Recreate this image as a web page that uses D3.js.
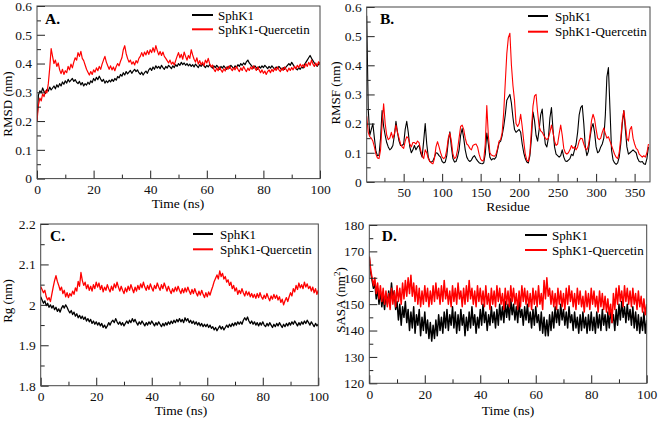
<!DOCTYPE html>
<html><head><meta charset="utf-8">
<script src="https://cdn.jsdelivr.net/npm/d3@7"></script>
<style>body{margin:0;background:#fff}svg{display:block}text{font-family:"Liberation Serif","Times New Roman",serif}</style>
</head><body><svg id="c" width="658" height="421"></svg>
<script>
// ---------- data ----------
const seriesNames = ["SphK1", "SphK1-Quercetin"];
const timeRange = [0, 100];      // ns, samples evenly spaced across this range
const residueStart = 2, residueStep = 2;

const rmsdSphK1 = [
0.200,0.290,0.305,0.298,0.315,0.302,0.296,0.310,0.304,0.318,
0.308,0.315,0.322,0.312,0.326,0.318,0.330,0.322,0.336,0.328,
0.340,0.332,0.345,0.336,0.342,0.348,0.338,0.344,0.335,0.330,
0.338,0.326,0.334,0.322,0.330,0.325,0.335,0.328,0.340,0.334,
0.348,0.340,0.352,0.344,0.356,0.346,0.338,0.345,0.332,0.340,
0.334,0.342,0.336,0.345,0.338,0.348,0.342,0.355,0.350,0.362,
0.356,0.368,0.360,0.372,0.364,0.370,0.376,0.366,0.374,0.380,
0.372,0.378,0.368,0.362,0.370,0.360,0.368,0.374,0.366,0.378,
0.384,0.376,0.388,0.380,0.392,0.384,0.390,0.382,0.394,0.386,
0.380,0.390,0.384,0.394,0.388,0.382,0.392,0.386,0.396,0.390,
0.400,0.394,0.404,0.396,0.402,0.394,0.400,0.392,0.398,0.390,
0.396,0.388,0.398,0.392,0.386,0.396,0.390,0.398,0.392,0.386,
0.394,0.388,0.396,0.390,0.384,0.392,0.386,0.394,0.388,0.380,
0.390,0.384,0.392,0.386,0.380,0.390,0.384,0.394,0.388,0.382,
0.392,0.386,0.396,0.390,0.400,0.394,0.402,0.396,0.406,0.412,
0.402,0.396,0.390,0.384,0.392,0.386,0.380,0.390,0.384,0.392,
0.386,0.394,0.388,0.382,0.390,0.384,0.392,0.386,0.380,0.388,
0.382,0.390,0.384,0.378,0.386,0.380,0.388,0.394,0.400,0.394,
0.404,0.396,0.388,0.382,0.378,0.386,0.380,0.388,0.384,0.396,
0.404,0.412,0.420,0.428,0.418,0.410,0.402,0.396,0.390,0.398,
0.404];
const rmsdQuercetin = [
0.200,0.255,0.280,0.270,0.295,0.285,0.305,0.298,0.330,0.385,
0.452,0.425,0.400,0.412,0.390,0.402,0.378,0.365,0.380,0.362,
0.375,0.368,0.390,0.378,0.398,0.385,0.405,0.420,0.412,0.438,
0.425,0.442,0.418,0.410,0.395,0.380,0.370,0.360,0.372,0.362,
0.378,0.370,0.385,0.375,0.390,0.380,0.398,0.412,0.425,0.405,
0.392,0.380,0.392,0.378,0.388,0.375,0.390,0.400,0.392,0.408,
0.420,0.448,0.462,0.435,0.418,0.405,0.412,0.398,0.406,0.395,
0.410,0.402,0.418,0.425,0.438,0.425,0.440,0.430,0.445,0.432,
0.448,0.438,0.455,0.440,0.462,0.445,0.430,0.442,0.428,0.440,
0.425,0.418,0.410,0.402,0.412,0.398,0.405,0.395,0.410,0.425,
0.438,0.420,0.432,0.415,0.440,0.425,0.412,0.428,0.418,0.448,
0.430,0.415,0.405,0.420,0.398,0.410,0.395,0.405,0.392,0.412,
0.402,0.418,0.400,0.388,0.395,0.380,0.372,0.385,0.375,0.388,
0.378,0.370,0.382,0.374,0.388,0.380,0.392,0.382,0.375,0.386,
0.378,0.390,0.380,0.372,0.385,0.376,0.390,0.380,0.372,0.384,
0.376,0.388,0.380,0.392,0.384,0.376,0.388,0.378,0.368,0.378,
0.366,0.374,0.362,0.372,0.378,0.368,0.380,0.372,0.384,0.376,
0.388,0.378,0.372,0.384,0.376,0.388,0.380,0.372,0.384,0.376,
0.386,0.378,0.390,0.382,0.394,0.386,0.398,0.388,0.396,0.386,
0.400,0.390,0.404,0.394,0.412,0.398,0.390,0.402,0.392,0.406,
0.396];

const rmsfSphK1 = [
0.570,0.250,0.160,0.180,0.200,0.150,0.105,0.090,0.092,0.150,
0.245,0.190,0.160,0.135,0.120,0.110,0.115,0.125,0.160,0.208,
0.170,0.140,0.125,0.125,0.130,0.180,0.208,0.170,0.120,0.100,
0.110,0.125,0.110,0.120,0.125,0.100,0.085,0.140,0.200,0.130,
0.085,0.070,0.068,0.072,0.085,0.100,0.098,0.090,0.085,0.070,
0.065,0.068,0.090,0.140,0.172,0.120,0.080,0.068,0.070,0.085,
0.110,0.160,0.183,0.150,0.110,0.085,0.075,0.070,0.075,0.085,
0.090,0.080,0.072,0.066,0.063,0.062,0.065,0.095,0.168,0.130,
0.085,0.075,0.080,0.078,0.085,0.110,0.135,0.140,0.160,0.190,
0.230,0.280,0.290,0.300,0.270,0.220,0.180,0.170,0.175,0.180,
0.170,0.130,0.100,0.080,0.068,0.065,0.090,0.150,0.240,0.210,
0.160,0.140,0.180,0.230,0.250,0.180,0.130,0.120,0.150,0.220,
0.255,0.180,0.120,0.095,0.090,0.085,0.090,0.110,0.085,0.072,
0.070,0.075,0.080,0.095,0.090,0.110,0.130,0.170,0.230,0.255,
0.262,0.200,0.120,0.090,0.105,0.150,0.185,0.200,0.170,0.120,
0.100,0.105,0.120,0.130,0.150,0.230,0.360,0.392,0.250,0.110,
0.075,0.065,0.060,0.065,0.085,0.130,0.200,0.245,0.180,0.120,
0.095,0.100,0.105,0.110,0.105,0.100,0.080,0.070,0.068,0.070,
0.062,0.060,0.080,0.120];
const rmsfQuercetin = [
0.225,0.170,0.155,0.150,0.140,0.120,0.095,0.082,0.080,0.110,
0.200,0.268,0.200,0.160,0.145,0.150,0.170,0.150,0.165,0.195,
0.170,0.150,0.130,0.120,0.115,0.140,0.155,0.150,0.130,0.120,
0.135,0.135,0.130,0.140,0.135,0.110,0.090,0.080,0.110,0.100,
0.080,0.070,0.065,0.062,0.080,0.120,0.138,0.120,0.100,0.085,
0.080,0.085,0.110,0.150,0.168,0.140,0.095,0.080,0.085,0.110,
0.150,0.190,0.195,0.180,0.150,0.130,0.125,0.115,0.110,0.125,
0.128,0.130,0.120,0.095,0.078,0.072,0.075,0.130,0.262,0.160,
0.100,0.092,0.090,0.088,0.095,0.115,0.140,0.145,0.170,0.240,
0.340,0.440,0.495,0.510,0.400,0.330,0.280,0.200,0.190,0.200,
0.232,0.190,0.140,0.095,0.075,0.070,0.100,0.180,0.260,0.295,
0.300,0.240,0.190,0.175,0.170,0.160,0.150,0.145,0.150,0.170,
0.195,0.170,0.140,0.125,0.130,0.165,0.195,0.160,0.115,0.100,
0.095,0.100,0.110,0.125,0.115,0.120,0.110,0.120,0.140,0.150,
0.148,0.130,0.115,0.110,0.125,0.160,0.210,0.232,0.215,0.180,
0.150,0.145,0.150,0.170,0.185,0.165,0.150,0.155,0.140,0.125,
0.110,0.095,0.085,0.080,0.100,0.150,0.210,0.245,0.200,0.150,
0.140,0.180,0.190,0.150,0.130,0.115,0.110,0.095,0.090,0.085,
0.090,0.085,0.100,0.130];

const rgSphK1 = [
2.020,2.012,2.004,2.010,1.998,2.004,1.994,2.000,1.992,1.998,
1.988,1.994,1.984,1.990,1.982,1.992,1.998,1.992,2.000,1.994,
1.986,1.980,1.986,1.976,1.982,1.972,1.978,1.968,1.974,1.966,
1.972,1.964,1.970,1.960,1.966,1.958,1.964,1.954,1.960,1.952,
1.958,1.950,1.956,1.948,1.954,1.944,1.950,1.942,1.948,1.956,
1.950,1.958,1.962,1.956,1.966,1.958,1.952,1.958,1.950,1.956,
1.948,1.954,1.960,1.954,1.962,1.956,1.966,1.958,1.964,1.956,
1.950,1.958,1.952,1.960,1.954,1.948,1.956,1.950,1.958,1.952,
1.960,1.954,1.948,1.956,1.950,1.958,1.952,1.946,1.954,1.948,
1.956,1.950,1.958,1.952,1.960,1.954,1.962,1.956,1.964,1.958,
1.966,1.958,1.964,1.956,1.968,1.960,1.966,1.956,1.962,1.954,
1.960,1.952,1.958,1.950,1.956,1.948,1.954,1.946,1.952,1.946,
1.952,1.944,1.950,1.942,1.946,1.938,1.944,1.936,1.942,1.948,
1.940,1.946,1.938,1.944,1.950,1.944,1.952,1.946,1.954,1.948,
1.956,1.950,1.958,1.952,1.958,1.952,1.962,1.968,1.962,1.970,
1.960,1.954,1.960,1.952,1.958,1.950,1.956,1.948,1.956,1.950,
1.958,1.950,1.946,1.954,1.948,1.956,1.950,1.944,1.952,1.946,
1.954,1.948,1.956,1.950,1.944,1.952,1.946,1.954,1.948,1.956,
1.950,1.958,1.952,1.960,1.954,1.948,1.956,1.950,1.958,1.952,
1.960,1.954,1.962,1.956,1.950,1.958,1.952,1.946,1.954,1.948,
1.952];
const rgQuercetin = [
2.045,2.038,2.030,2.036,2.020,2.012,2.018,2.008,2.026,2.044,
2.060,2.072,2.058,2.048,2.036,2.044,2.028,2.036,2.020,2.030,
2.018,2.028,2.022,2.034,2.026,2.042,2.034,2.058,2.046,2.080,
2.060,2.048,2.056,2.040,2.050,2.036,2.046,2.034,2.050,2.040,
2.056,2.044,2.054,2.038,2.048,2.032,2.044,2.036,2.050,2.040,
2.032,2.046,2.036,2.052,2.042,2.056,2.044,2.034,2.046,2.036,
2.028,2.042,2.032,2.046,2.036,2.050,2.040,2.030,2.044,2.034,
2.048,2.038,2.052,2.042,2.056,2.044,2.036,2.048,2.038,2.052,
2.042,2.034,2.048,2.040,2.054,2.044,2.036,2.050,2.040,2.054,
2.044,2.034,2.046,2.036,2.028,2.040,2.032,2.044,2.034,2.046,
2.036,2.028,2.040,2.030,2.042,2.032,2.044,2.034,2.026,2.038,
2.028,2.040,2.030,2.022,2.034,2.024,2.036,2.026,2.018,2.030,
2.020,2.032,2.024,2.036,2.046,2.058,2.066,2.074,2.064,2.084,
2.070,2.078,2.064,2.070,2.056,2.062,2.048,2.056,2.040,2.048,
2.034,2.042,2.026,2.036,2.028,2.040,2.030,2.022,2.034,2.024,
2.032,2.020,2.028,2.018,2.026,2.016,2.028,2.018,2.030,2.020,
2.014,2.024,2.016,2.028,2.018,2.010,2.022,2.014,2.026,2.016,
2.024,2.012,2.020,2.006,2.014,2.000,2.010,2.018,2.008,2.020,
2.030,2.022,2.040,2.032,2.048,2.038,2.054,2.042,2.050,2.040,
2.056,2.044,2.052,2.040,2.046,2.034,2.044,2.030,2.040,2.026,
2.036];

const sasaSphK1 = [
168,162,159,156,158,152,156,150,155,149,
153,148,154,150,155,151,158,152,155,148,
151,144,150,142,149,145,151,143,148,140,
147,141,149,139,146,142,148,138,145,140,
147,139,144,137,143,136,142,137,144,138,
146,140,145,139,147,141,148,140,146,142,
149,141,147,139,146,140,148,142,146,138,
145,140,147,141,149,142,146,139,145,141,
148,142,150,143,147,140,146,142,149,143,
147,141,148,142,150,144,149,143,151,145,
150,144,152,146,150,144,149,143,151,145,
148,142,149,144,150,143,147,141,148,142,
149,143,146,140,147,139,145,138,144,138,
146,140,147,141,149,143,148,142,150,144,
148,142,147,141,149,143,146,140,147,141,
145,139,146,140,147,141,145,139,146,140,
147,140,145,139,147,141,146,140,148,142,
146,140,147,141,148,143,146,140,148,142,
150,144,151,145,149,143,150,144,148,142,
149,141,147,140,146,139,145,140,147,139,
144];
const sasaQuercetin = [
168,163,160,157,160,154,158,152,157,151,
156,150,155,149,154,148,156,150,155,149,
157,151,156,150,158,152,159,153,160,154,
161,153,158,151,157,150,156,149,155,150,
157,151,156,149,155,150,157,151,158,152,
156,150,157,151,159,152,156,150,155,149,
157,151,156,150,158,152,155,149,156,150,
157,151,159,152,156,150,155,149,157,151,
156,150,155,149,157,150,154,148,156,150,
155,149,157,151,156,150,154,148,156,150,
155,149,157,151,156,150,154,148,155,149,
157,151,156,150,155,149,154,148,156,150,
155,149,157,150,154,148,159,152,160,153,
156,150,155,149,154,148,156,150,155,149,
154,148,156,150,157,151,155,149,154,148,
156,150,155,149,153,147,155,149,154,148,
156,150,155,149,153,147,155,149,154,148,
153,147,152,146,150,143,154,148,156,150,
157,151,155,149,157,151,156,150,155,149,
156,150,154,148,155,149,153,147,152,146,
150];

// tick values
const timeTicks = [0, 20, 40, 60, 80, 100];
const timeMinor = [10, 30, 50, 70, 90];
const residueTicks = [50, 100, 150, 200, 250, 300, 350];
const residueMinor = [25, 75, 125, 175, 225, 275, 325];
const rmsTicks = [0, 0.1, 0.2, 0.3, 0.4, 0.5, 0.6];
const rmsMinor = [0.05, 0.15, 0.25, 0.35, 0.45, 0.55];
const rgTicks = [1.8, 1.9, 2, 2.1, 2.2];
const rgMinor = [1.85, 1.95, 2.05, 2.15];
const sasaTicks = [120, 130, 140, 150, 160, 170, 180];
const sasaMinor = [125, 135, 145, 155, 165, 175];

// ---------- drawing ----------
const svg = d3.select("#c");
const FONT = "'Liberation Serif', 'Times New Roman', serif";
const colors = ["#000000", "#ff0000"];
const timeX = arr => arr.map((_, i) => timeRange[0] + i * (timeRange[1] - timeRange[0]) / (arr.length - 1));
const resX = arr => arr.map((_, i) => residueStart + i * residueStep);
const fmt = d => String(+d.toFixed(2));

function panel(c) {
  const g = svg.append("g");
  const x = d3.scaleLinear().domain(c.xd).range([c.x0, c.x1]);
  const y = d3.scaleLinear().domain(c.yd).range([c.y1, c.y0]);
  svg.append("clipPath").attr("id", "clip" + c.id).append("rect")
    .attr("x", c.x0).attr("y", c.y0).attr("width", c.x1 - c.x0).attr("height", c.y1 - c.y0);

  c.series.forEach((s, k) => {
    const xs = c.xsFn(s);
    g.append("path").datum(s)
      .attr("clip-path", `url(#clip${c.id})`)
      .attr("fill", "none").attr("stroke", colors[k]).attr("stroke-width", c.sw)
      .attr("stroke-linejoin", "round")
      .attr("d", d3.line().x((d, i) => x(xs[i])).y(d => y(d)));
  });

  const style = sel => { sel.select(".domain").remove(); sel.attr("font-size", 13.5).attr("font-family", FONT);
    sel.selectAll("line").attr("stroke", "#222"); sel.selectAll("text").attr("fill", "#111"); };
  g.append("g").attr("transform", `translate(0,${c.y1})`)
    .call(d3.axisBottom(x).tickValues(c.xt).tickSizeInner(-8).tickSizeOuter(0).tickPadding(6).tickFormat(fmt)).call(style);
  g.append("g").attr("transform", `translate(0,${c.y1})`)
    .call(d3.axisBottom(x).tickValues(c.xm).tickSizeInner(-4).tickSizeOuter(0).tickFormat("")).call(style);
  g.append("g").attr("transform", `translate(${c.x0},0)`)
    .call(d3.axisLeft(y).tickValues(c.yt).tickSizeInner(-8).tickSizeOuter(0).tickPadding(5).tickFormat(fmt)).call(style);
  g.append("g").attr("transform", `translate(${c.x0},0)`)
    .call(d3.axisLeft(y).tickValues(c.ym).tickSizeInner(-4).tickSizeOuter(0).tickFormat("")).call(style);

  g.append("rect").attr("x", c.x0).attr("y", c.y0).attr("width", c.x1 - c.x0).attr("height", c.y1 - c.y0)
    .attr("fill", "none").attr("stroke", "#444").attr("stroke-width", 1);

  // panel letter
  g.append("text").attr("x", c.letter[0]).attr("y", c.letter[1]).attr("font-size", 15.5)
    .attr("font-weight", "bold").attr("font-family", FONT).text(c.letter[2]);

  // legend
  seriesNames.forEach((n, k) => {
    const ly = c.leg[1] + k * c.leg[4];
    g.append("line").attr("x1", c.leg[0]).attr("x2", c.leg[2]).attr("y1", ly).attr("y2", ly)
      .attr("stroke", colors[k]).attr("stroke-width", 2);
    g.append("text").attr("x", c.leg[3]).attr("y", ly + 4.5).attr("font-size", 13)
      .attr("font-family", FONT).text(n);
  });

  // axis titles
  g.append("text").attr("x", c.xTitle[0]).attr("y", c.xTitle[1]).attr("text-anchor", "middle")
    .attr("font-size", 13.5).attr("font-family", FONT).text(c.xTitle[2]);
  const yt = g.append("text").attr("transform", `translate(${c.yTitle[0]},${c.yTitle[1]}) rotate(-90)`)
    .attr("text-anchor", "middle").attr("font-size", 13).attr("font-family", FONT).text(c.yTitle[2]);
  if (c.sup) { yt.append("tspan").attr("font-size", 9).attr("dy", -5).text("2"); yt.append("tspan").attr("dy", 5).text(")"); }
}

panel({ id: "A", x0: 37, x1: 320, y0: 6, y1: 178.6, xd: timeRange, yd: [0, 0.6],
  xt: timeTicks, xm: timeMinor, yt: rmsTicks, ym: rmsMinor, sw: 1.2,
  series: [rmsdSphK1, rmsdQuercetin], xsFn: timeX,
  letter: [45, 24, "A."], leg: [192, 15, 213, 218, 14.3],
  xTitle: [178, 208, "Time (ns)"], yTitle: [11.5, 104, "RMSD (nm)"] });

panel({ id: "B", x0: 366.7, x1: 650, y0: 7, y1: 181.9, xd: [2, 370], yd: [0, 0.6],
  xt: residueTicks, xm: residueMinor, yt: rmsTicks, ym: rmsMinor, sw: 1.1,
  series: [rmsfSphK1, rmsfQuercetin], xsFn: resX,
  letter: [380, 23.5, "B."], leg: [528, 16, 548, 555, 15.7],
  xTitle: [508, 211, "Residue"], yTitle: [340, 93, "RMSF (nm)"] });

panel({ id: "C", x0: 40.7, x1: 318.3, y0: 224, y1: 385.7, xd: timeRange, yd: [1.8, 2.2],
  xt: timeTicks, xm: timeMinor, yt: rgTicks, ym: rgMinor, sw: 1.3,
  series: [rgSphK1, rgQuercetin], xsFn: timeX,
  letter: [50, 240.5, "C."], leg: [193, 234, 213, 220, 15.3],
  xTitle: [181, 415, "Time (ns)"], yTitle: [12, 301, "Rg (nm)"] });

panel({ id: "D", x0: 369.3, x1: 646.7, y0: 225, y1: 383.3, xd: timeRange, yd: [120, 180],
  xt: timeTicks, xm: timeMinor, yt: sasaTicks, ym: sasaMinor, sw: 1.5,
  series: [sasaSphK1, sasaQuercetin], xsFn: timeX,
  letter: [381.7, 240.5, "D."], leg: [525, 235, 547, 552, 15],
  xTitle: [508, 415, "Time (ns)"], yTitle: [345, 300, "SASA (nm"], sup: true });
</script></body></html>
